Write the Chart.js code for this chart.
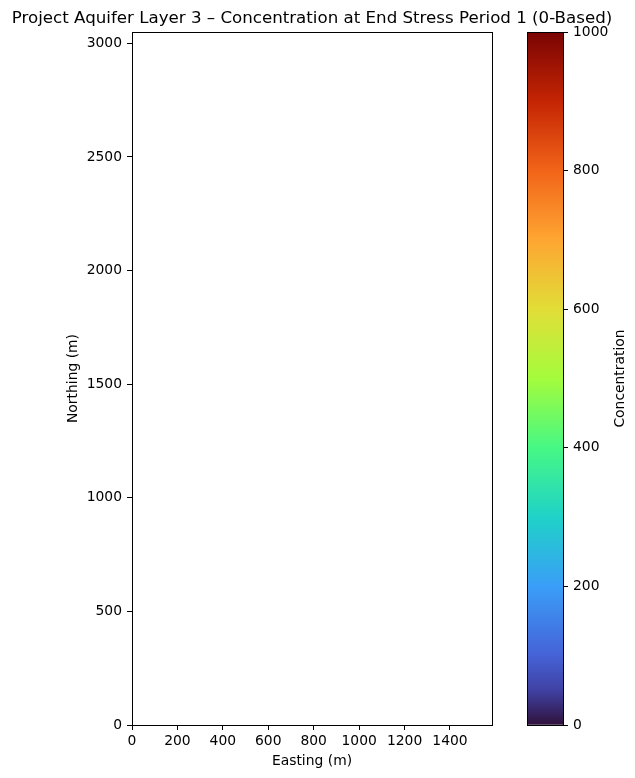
<!DOCTYPE html>
<html>
<head>
<meta charset="utf-8">
<script src="https://cdn.jsdelivr.net/npm/chart.js@4"></script>
<style>
  body { margin: 0; background: #fff; }
  #wrap { position: relative; width: 635px; height: 778px; }
  #mainChart { position: absolute; left: 0; top: 0; }
  #cbarChart { position: absolute; left: 520px; top: 0; }
</style>
</head>
<body>
<div id="wrap">
  <canvas id="mainChart" width="635" height="778"></canvas>
  <canvas id="cbarChart" width="115" height="778"></canvas>
</div>
<script>
// chart values ------------------------------------------------
const titleText = "Project Aquifer Layer 3 \u2013 Concentration at End Stress Period 1 (0-Based)";
const xLabel = "Easting (m)";
const yLabel = "Northing (m)";
const cbarLabel = "Concentration";

const xRange = [0, 1585];
const yRange = [0, 3050];
const xTicks = [0, 200, 400, 600, 800, 1000, 1200, 1400];
const yTicks = [0, 500, 1000, 1500, 2000, 2500, 3000];

const concentrationPoints = []; // nothing plotted in this layer
const cbarRange = [0, 1000];
const cbarTicks = [0, 200, 400, 600, 800, 1000];

// turbo colormap stops (fraction, colour)
const turboStops = [
  [0.0, "#30123b"], [0.05, "#4041a4"], [0.1, "#4562d6"], [0.2, "#3a9ef8"],
  [0.3, "#1fd2c8"], [0.4, "#46f884"], [0.5, "#a4fc3c"], [0.6, "#e1dd37"],
  [0.7, "#fea632"], [0.8, "#f26419"], [0.9, "#c42503"], [1.0, "#7a0403"],
];

const FONT = "'DejaVu Sans', sans-serif";
const SMALL = 13.89;
Chart.defaults.font.family = FONT;
Chart.defaults.color = "#000";

// draws the black frame round the plot area
const frame = {
  id: "frame",
  afterDraw(chart) {
    const { ctx, chartArea: a } = chart;
    ctx.save();
    ctx.strokeStyle = "#000";
    ctx.lineWidth = 1;
    ctx.strokeRect(Math.round(a.left) + 0.5, Math.round(a.top) + 0.5,
      Math.round(a.right - a.left), Math.round(a.bottom - a.top));
    ctx.restore();
  },
};

function fixTicks(values) {
  return (scale) => {
    scale.ticks = values.map((v) => ({ value: v }));
  };
}
const plain = (v) => String(v);

new Chart(document.getElementById("mainChart"), {
  type: "scatter",
  data: {
    datasets: [{ label: cbarLabel, data: concentrationPoints, pointRadius: 0 }],
  },
  options: {
    responsive: false,
    animation: false,
    devicePixelRatio: 1,
    layout: { padding: { left: 0, top: 0, right: 11, bottom: 0 } },
    plugins: {
      legend: { display: false },
      tooltip: { enabled: false },
      title: {
        display: true,
        text: titleText,
        align: "center",
        color: "#000",
        font: { size: 16.67, weight: "normal", family: FONT, lineHeight: 1.2 },
        padding: { top: 8.5, bottom: 3.5 },
      },
    },
    scales: {
      x: {
        type: "linear",
        min: xRange[0],
        max: xRange[1],
        afterBuildTicks: fixTicks(xTicks),
        afterFit: (s) => { s.height = 53; },
        grid: { drawOnChartArea: false, tickLength: 5, tickColor: "#000" },
        border: { display: true, color: "#000" },
        ticks: { font: { size: SMALL }, padding: 3, maxRotation: 0, callback: plain },
        title: { display: true, text: xLabel, font: { size: SMALL }, padding: { top: 2, bottom: 8.7 } },
      },
      y: {
        type: "linear",
        min: yRange[0],
        max: yRange[1],
        afterBuildTicks: fixTicks(yTicks),
        afterFit: (s) => { s.width = 132; },
        grid: { drawOnChartArea: false, tickLength: 5, tickColor: "#000" },
        border: { display: true, color: "#000" },
        ticks: { font: { size: SMALL }, padding: 5, callback: plain },
        title: { display: true, text: yLabel, font: { size: SMALL }, padding: { top: 64.7, bottom: 0 } },
      },
      // empty strip to the right, keeps room for the colour bar
      yPad: {
        type: "linear",
        position: "right",
        display: true,
        afterFit: (s) => { s.width = 132; },
        grid: { display: false },
        border: { display: false },
        ticks: { display: false },
      },
    },
  },
  plugins: [frame],
});

// colour bar ----------------------------------------------------
const cbarTitle = {
  id: "cbarTitle",
  afterDraw(chart) {
    const ctx = chart.ctx;
    const a = chart.chartArea;
    ctx.save();
    ctx.translate(620 - 520, (a.top + a.bottom) / 2);
    ctx.rotate(-Math.PI / 2);
    ctx.font = SMALL + "px " + FONT;
    ctx.fillStyle = "#000";
    ctx.textAlign = "center";
    ctx.textBaseline = "middle";
    ctx.fillText(cbarLabel, 0, 0);
    ctx.restore();
  },
};

function turboGradient(context) {
  const chart = context.chart;
  const a = chart.chartArea;
  if (!a) return turboStops[0][1];
  const g = chart.ctx.createLinearGradient(0, a.bottom, 0, a.top);
  turboStops.forEach(([f, c]) => g.addColorStop(f, c));
  return g;
}

new Chart(document.getElementById("cbarChart"), {
  type: "bar",
  data: {
    labels: [cbarLabel],
    datasets: [{
      data: [cbarRange],
      backgroundColor: turboGradient,
      borderWidth: 0,
      barPercentage: 1,
      categoryPercentage: 1,
    }],
  },
  options: {
    responsive: false,
    animation: false,
    devicePixelRatio: 1,
    layout: { padding: { left: 7, top: 32, right: 0, bottom: 53 } },
    plugins: { legend: { display: false }, tooltip: { enabled: false } },
    scales: {
      x: { display: false },
      y: {
        position: "right",
        min: cbarRange[0],
        max: cbarRange[1],
        afterBuildTicks: fixTicks(cbarTicks),
        afterFit: (s) => { s.width = 72; },
        grid: { drawOnChartArea: false, tickLength: 5, tickColor: "#000" },
        border: { display: true, color: "#000" },
        ticks: { font: { size: SMALL }, padding: 5, callback: plain },
      },
    },
  },
  plugins: [frame, cbarTitle],
});
</script>
</body>
</html>
